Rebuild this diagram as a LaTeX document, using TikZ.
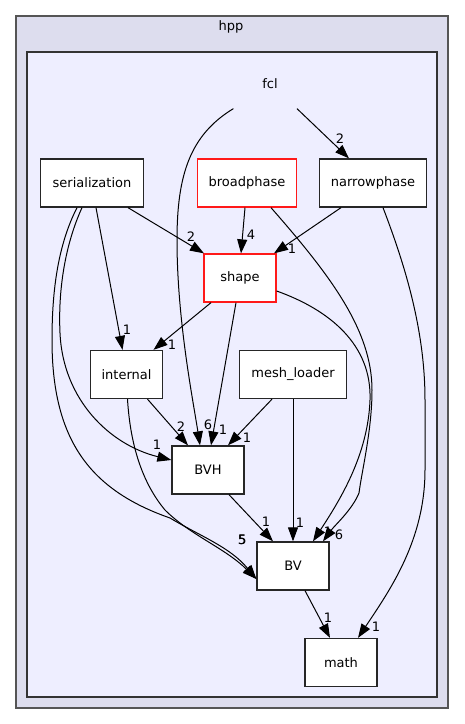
\documentclass[tikz,border=0pt]{standalone}
\usepackage{fontspec}
\setmainfont{DejaVu Sans}
\usepackage{tikz}
\usetikzlibrary{positioning,arrows.meta}

\definecolor{hppfill}{HTML}{DDDDEE}
\definecolor{fclfill}{HTML}{EEEEFF}
\definecolor{framegray}{HTML}{555555}

\begin{document}
\begin{tikzpicture}[x=1pt, y=-1pt, >={Triangle[length=14pt,width=10pt]}, line width=1pt,
        dir node/.style={rectangle, draw=black!85, fill=white, line width=1.3pt, minimum height=48pt,
            minimum width=72pt, inner sep=0pt, font=\fontsize{13}{15}\selectfont},
        red node/.style={dir node, draw=red!90},
        lbl/.style={inner sep=0pt, font=\fontsize{13}{15}\selectfont}]
    \useasboundingbox (0,0) rectangle (464,724);

    % clusters
    \draw[framegray, line width=2pt, fill=hppfill] (16,16) rectangle (448,708);
    \draw[black!80, line width=1.2pt, fill=fclfill] (27,52) rectangle (437,697);
    \node[lbl] (hpp) at (231,27) {hpp};

    % directories
    \node[dir node, draw=none, fill=none] (1) at (270,84) {fcl};
    \node[dir node, minimum width=103pt] (2) at (92,183) {serialization};
    \node[red node, minimum width=99pt] (3) at (247,183) {broadphase};
    \node[dir node, minimum width=107pt] (4) at (373,183) {narrowphase};
    \node[red node] (5) at (240,278) {shape};
    \node[dir node] (6) at (126.5,374.5) {internal};
    \node[dir node, minimum width=107pt] (7) at (293,374.5) {mesh\_loader};
    \node[dir node] (8) at (208,470) {BVH};
    \node[dir node] (9) at (293,566) {BV};
    \node[dir node] (10) at (341,662.5) {math};

    % straight dependencies
    \path[->]
        ([xshift=27pt]1.south) edge ([xshift=-24pt]4.north)
        ([xshift=36pt]2.south) edge ([xshift=-36pt]5.north)
        ([xshift=-2pt]3.south) edge ([xshift=1pt]5.north)
        ([xshift=-32pt]4.south) edge ([xshift=34pt]5.north)
        ([xshift=4pt]2.south) edge ([xshift=-4pt]6.north)
        ([xshift=21pt]6.south) edge ([xshift=-20pt]8.north)
        ([xshift=-29pt]5.south) edge ([xshift=27pt]6.north)
        ([xshift=-4pt]5.south) edge ([xshift=3pt]8.north)
        ([xshift=-21pt]7.south) edge ([xshift=20pt]8.north)
        (7.south) edge (9.north)
        ([xshift=21pt]8.south) edge ([xshift=-20pt]9.north)
        ([xshift=12pt]9.south) edge ([xshift=-11pt]10.north);

    % curved dependencies
    \draw[->] (1.south west) .. controls (190,135) and (177,175) .. (177,240)
        .. controls (177,320) and (193,400) .. ([xshift=-8pt]8.north);
    \draw[->] ([xshift=24pt]3.south) .. controls (330,275) and (372,330) .. (372,390)
        .. controls (372,430) and (362,470) .. (359,493)
        .. controls (352,510) and (335,525) .. ([xshift=30pt]9.north);
    \draw[->] ([yshift=-13pt]5.east) .. controls (330,310) and (372,345) .. (370,400)
        .. controls (368,455) and (340,500) .. ([xshift=20pt]9.north);
    \draw[->] ([xshift=-10pt]2.south) .. controls (65,245) and (58,290) .. (60,333)
        .. controls (63,400) and (110,445) .. ([yshift=10pt]8.west);
    \draw[->] ([xshift=-15pt]2.south) .. controls (58,245) and (52,290) .. (52,340)
        .. controls (52,440) and (90,490) .. (170,518)
        .. controls (200,536) and (230,547) .. ([yshift=-13pt]9.west);
    \draw[->] ([xshift=1pt]6.south) .. controls (130,440) and (140,480) .. (165,510)
        .. controls (190,535) and (225,548) .. ([yshift=-13pt]9.west);
    \draw[->] ([xshift=10pt]4.south) .. controls (405,265) and (425,330) .. (425,400)
        -- (425,470) .. controls (425,540) and (390,590) .. ([xshift=17pt]10.north);

    % edge counts
    \node[lbl] (l1) at (340,139) {2};
    \node[lbl] (l2) at (191,237) {2};
    \node[lbl] (l3) at (251,235) {4};
    \node[lbl] (l4) at (292,249) {1};
    \node[lbl] (l5) at (127,330) {1};
    \node[lbl] (l6) at (172,345) {1};
    \node[lbl] (l7) at (181,427) {2};
    \node[lbl] (l8) at (208,425) {6};
    \node[lbl] (l9) at (223,430) {1};
    \node[lbl] (l10) at (247,438) {1};
    \node[lbl] (l11) at (157,445) {1};
    \node[lbl] (l12) at (266,522) {1};
    \node[lbl] (l13) at (300,523) {1};
    \node[lbl] (l14) at (328,532) {1};
    \node[lbl] (l15) at (339,535) {6};
    \node[lbl] (l16) at (242,540) {5};
    \node[lbl] (l17) at (242.4,540) {5};
    \node[lbl] (l18) at (328,618) {1};
    \node[lbl] (l19) at (376,627) {1};
\end{tikzpicture}
\end{document}
